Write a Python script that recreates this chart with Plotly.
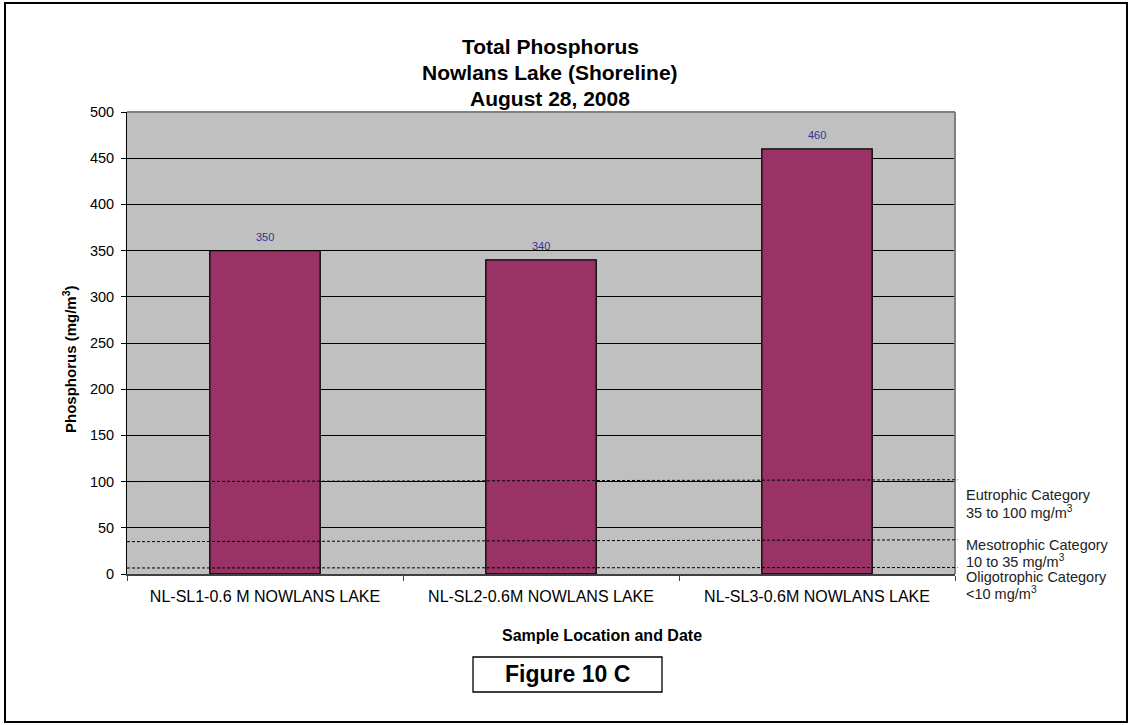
import plotly.graph_objects as go

# Sample sites and measured total phosphorus (mg/m3)
sites = ["NL-SL1-0.6 M NOWLANS LAKE", "NL-SL2-0.6M NOWLANS LAKE", "NL-SL3-0.6M NOWLANS LAKE"]
phosphorus = [350, 340, 460]

# Trophic category guide lines (value at left edge, value at right edge)
guide_start = [100, 35, 6.5]
guide_end = [102, 37, 7]

# Category labels at the right side of the plot: (text, pixel row)
category_labels = [
    ("Eutrophic Category", 495),
    ("35 to 100 mg/m<sup>3</sup>", 512),
    ("Mesotrophic Category", 545),
    ("10 to 35 mg/m<sup>3</sup>", 561),
    ("Oligotrophic Category", 577),
    ("<10 mg/m<sup>3</sup>", 593),
]

W, H = 1131, 725
L, R, T, B = 127, 955, 112, 574  # plot area in pixels


def px(x):
    return (x - L) / (R - L)


def py(y):
    return (B - y) / (B - T)


FONT = "Arial, Liberation Sans, sans-serif"

fig = go.Figure()
fig.add_trace(go.Bar(
    x=sites, y=phosphorus,
    marker=dict(color="#993366", line=dict(color="black", width=1.3)),
    width=0.4,
    hoverinfo="x+y",
))

shapes = []
# outer frame
shapes.append(dict(type="rect", xref="paper", yref="paper",
                   x0=px(5), x1=px(1127), y0=py(722), y1=py(3),
                   line=dict(color="black", width=2), layer="below"))
# top and right border of plot area
shapes.append(dict(type="line", xref="paper", yref="paper", x0=0, x1=1, y0=1, y1=1,
                   line=dict(color="#808080", width=2)))
shapes.append(dict(type="line", xref="paper", yref="paper", x0=1, x1=1, y0=0, y1=1,
                   line=dict(color="#808080", width=2)))
# trophic guide lines
for a, b in zip(guide_start, guide_end):
    shapes.append(dict(type="line", xref="paper", yref="y", x0=0, x1=1.003, y0=a, y1=b,
                       line=dict(color="black", width=1, dash="3px,2px")))
# figure label box
shapes.append(dict(type="rect", xref="paper", yref="paper",
                   x0=px(473), x1=px(662), y0=py(692), y1=py(657),
                   line=dict(color="black", width=1.3)))

annotations = []
# value labels above bars
for s, v in zip(sites, phosphorus):
    annotations.append(dict(x=s, y=v, xref="x", yref="y", text=str(v), showarrow=False,
                            yshift=14, font=dict(family=FONT, size=11, color="#333399")))
# title lines
for txt, yy in [("Total Phosphorus", 47), ("Nowlans Lake (Shoreline)", 73), ("August 28, 2008", 98)]:
    annotations.append(dict(x=px(550), y=py(yy), xref="paper", yref="paper", text="<b>%s</b>" % txt,
                            showarrow=False, xanchor="center", yanchor="middle",
                            font=dict(family=FONT, size=21, color="black")))
# axis titles
annotations.append(dict(x=px(69), y=py(359), xref="paper", yref="paper",
                        text="<b>Phosphorus (mg/m<sup>3</sup>)</b>", textangle=-90, showarrow=False,
                        xanchor="center", yanchor="middle",
                        font=dict(family=FONT, size=15, color="black")))
annotations.append(dict(x=px(602), y=py(635), xref="paper", yref="paper",
                        text="<b>Sample Location and Date</b>", showarrow=False,
                        xanchor="center", yanchor="middle",
                        font=dict(family=FONT, size=16, color="black")))
annotations.append(dict(x=px(567), y=py(674), xref="paper", yref="paper",
                        text="<b>Figure 10 C</b>", showarrow=False,
                        xanchor="center", yanchor="middle",
                        font=dict(family=FONT, size=23, color="black")))
# trophic category labels
for txt, yy in category_labels:
    annotations.append(dict(x=px(964), y=py(yy), xref="paper", yref="paper", text=txt,
                            showarrow=False, xanchor="left", yanchor="middle",
                            font=dict(family=FONT, size=14.5, color="#222222")))

fig.update_layout(
    width=W, height=H,
    margin=dict(l=L, r=W - R, t=T, b=H - B, pad=0),
    paper_bgcolor="white",
    plot_bgcolor="#C0C0C0",
    showlegend=False,
    bargap=0.6,
    shapes=shapes,
    annotations=annotations,
    font=dict(family=FONT, color="black"),
)
fig.update_xaxes(
    type="category",
    showline=True, linecolor="#404040", linewidth=2,
    ticks="outside", tickson="boundaries", ticklen=5, tickcolor="#404040",
    ticklabelstandoff=7,
    tickfont=dict(family=FONT, size=16, color="black"),
    showgrid=False, zeroline=False,
)
fig.update_yaxes(
    range=[0, 500], tickvals=list(range(0, 501, 50)),
    showline=True, linecolor="black", linewidth=1,
    ticks="outside", ticklen=5, tickcolor="black",
    ticklabelstandoff=4,
    tickfont=dict(family=FONT, size=14.5, color="black"),
    showgrid=True, gridcolor="black", gridwidth=1,
    zeroline=False,
)

fig.write_html("out.html")
